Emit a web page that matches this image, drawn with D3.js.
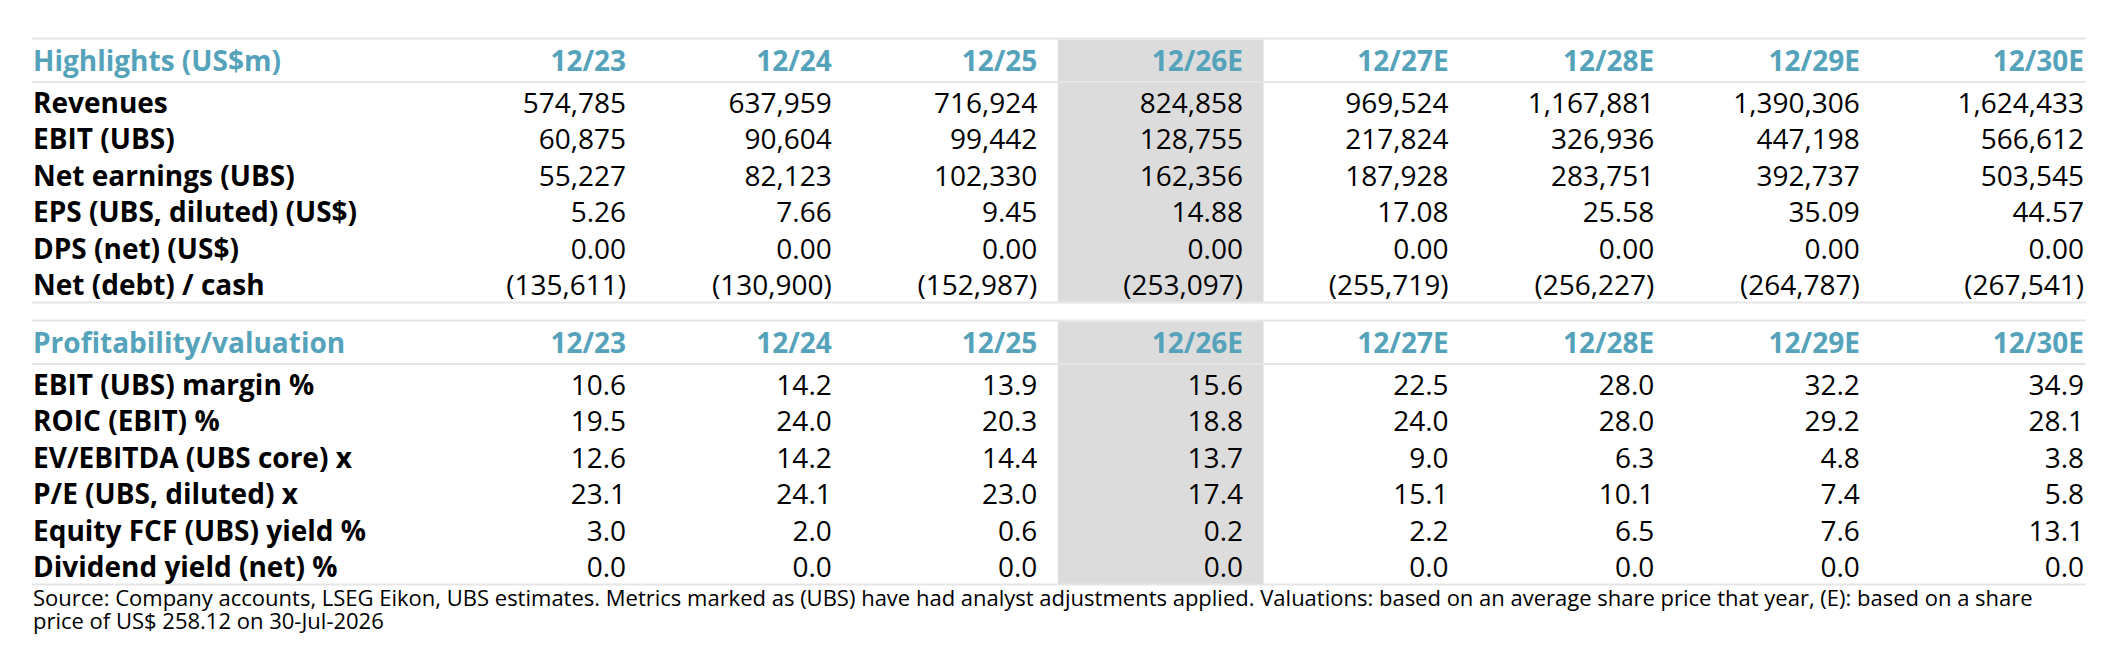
<!DOCTYPE html>
<html>
<head>
<meta charset="utf-8">
<script src="https://cdn.jsdelivr.net/npm/d3@7/dist/d3.min.js"></script>
<style>
  html, body { margin: 0; padding: 0; background: #ffffff; }
  svg { display: block; }
  text { font-family: "Open Sans", "Noto Sans", sans-serif; }
</style>
</head>
<body>
<div id="chart"></div>
<script>
// ---------- data ----------
const periods = ["12/23", "12/24", "12/25", "12/26E", "12/27E", "12/28E", "12/29E", "12/30E"];
const highlightPeriod = "12/26E";

const section1Title = "Highlights (US$m)";
const section1Labels = ["Revenues", "EBIT (UBS)", "Net earnings (UBS)", "EPS (UBS, diluted) (US$)", "DPS (net) (US$)", "Net (debt) / cash"];
const section1Decimals = [0, 0, 0, 2, 2, 0];
const revenues      = [574785, 637959, 716924, 824858, 969524, 1167881, 1390306, 1624433];
const ebit          = [60875, 90604, 99442, 128755, 217824, 326936, 447198, 566612];
const netEarnings   = [55227, 82123, 102330, 162356, 187928, 283751, 392737, 503545];
const eps           = [5.26, 7.66, 9.45, 14.88, 17.08, 25.58, 35.09, 44.57];
const dps           = [0.00, 0.00, 0.00, 0.00, 0.00, 0.00, 0.00, 0.00];
const netDebtCash   = [-135611, -130900, -152987, -253097, -255719, -256227, -264787, -267541];

const section2Title = "Profitability/valuation";
const section2Labels = ["EBIT (UBS) margin %", "ROIC (EBIT) %", "EV/EBITDA (UBS core) x", "P/E (UBS, diluted) x", "Equity FCF (UBS) yield %", "Dividend yield (net) %"];
const section2Decimals = [1, 1, 1, 1, 1, 1];
const ebitMargin    = [10.6, 14.2, 13.9, 15.6, 22.5, 28.0, 32.2, 34.9];
const roic          = [19.5, 24.0, 20.3, 18.8, 24.0, 28.0, 29.2, 28.1];
const evEbitda      = [12.6, 14.2, 14.4, 13.7, 9.0, 6.3, 4.8, 3.8];
const peRatio       = [23.1, 24.1, 23.0, 17.4, 15.1, 10.1, 7.4, 5.8];
const fcfYield      = [3.0, 2.0, 0.6, 0.2, 2.2, 6.5, 7.6, 13.1];
const divYield      = [0.0, 0.0, 0.0, 0.0, 0.0, 0.0, 0.0, 0.0];

const sourceLines = [
  "Source: Company accounts, LSEG Eikon, UBS estimates. Metrics marked as (UBS) have had analyst adjustments applied. Valuations: based on an average share price that year, (E): based on a share",
  "price of US$ 258.12 on 30-Jul-2026"
];

// ---------- layout ----------
const W = 2121, H = 661;
const left = 32, right = 2086;
const colStart = 441;
const teal = "#55a3bb";
const lineColor = "#e6e6e6";
const bandColor = "#dcdcdc";

const sections = [
  { title: section1Title, labels: section1Labels, decimals: section1Decimals,
    values: [revenues, ebit, netEarnings, eps, dps, netDebtCash], top: 38.5 },
  { title: section2Title, labels: section2Labels, decimals: section2Decimals,
    values: [ebitMargin, roic, evEbitda, peRatio, fcfYield, divYield], top: 320.5 }
];

const x = d3.scaleBand().domain(periods).range([colStart, right]).paddingInner(0).paddingOuter(0);
const textRight = p => x(p) + x.bandwidth() - (p === periods[periods.length - 1] ? 2 : 20.5);

const rowY = d3.scaleLinear().domain([0, 5]).range([74, 256.5]);
const sectionHeight = 264;

function fmt(v, dec) {
  const f = d3.format(",." + dec + "f");
  return v < 0 ? "(" + f(-v) + ")" : f(v);
}

const svg = d3.select("#chart").append("svg")
  .attr("width", W).attr("height", H)
  .attr("viewBox", `0 0 ${W} ${H}`);

svg.append("rect").attr("width", W).attr("height", H).attr("fill", "#fff");

sections.forEach(sec => {
  const g = svg.append("g").attr("transform", `translate(0,${sec.top})`);

  // highlighted column band
  g.append("rect")
    .attr("x", x(highlightPeriod))
    .attr("y", 1)
    .attr("width", x.bandwidth())
    .attr("height", sectionHeight - 1)
    .attr("fill", bandColor);

  // lines: top, under header, bottom
  [0, 43.5, sectionHeight].forEach(yy => {
    g.append("line")
      .attr("x1", left).attr("x2", right)
      .attr("y1", yy).attr("y2", yy)
      .attr("stroke", lineColor).attr("stroke-width", 2);
  });

  // header
  g.append("text")
    .attr("x", left + 1).attr("y", 32.5)
    .attr("fill", teal).attr("font-weight", 700).attr("font-size", 28)
    .text(sec.title);

  g.selectAll("text.period").data(periods).join("text")
    .attr("class", "period")
    .attr("x", d => textRight(d)).attr("y", 32.5)
    .attr("text-anchor", "end")
    .attr("fill", teal).attr("font-weight", 700).attr("font-size", 28)
    .text(d => d);

  // rows
  sec.labels.forEach((lab, i) => {
    const yy = rowY(i);
    g.append("text")
      .attr("x", left + 1).attr("y", yy)
      .attr("fill", "#000").attr("font-weight", 700).attr("font-size", 28)
      .text(lab);

    g.selectAll("text.v" + i).data(sec.values[i]).join("text")
      .attr("class", "v" + i)
      .attr("x", (d, j) => textRight(periods[j])).attr("y", yy)
      .attr("text-anchor", "end")
      .attr("fill", "#000").attr("font-weight", 400).attr("font-size", 28)
      .text(d => fmt(d, sec.decimals[i]));
  });
});

// source note
svg.append("text")
  .attr("x", left + 1).attr("y", 605.5)
  .attr("fill", "#000").attr("font-size", 22)
  .selectAll("tspan").data(sourceLines).join("tspan")
  .attr("x", left + 1)
  .attr("dy", (d, i) => i === 0 ? 0 : 23.8)
  .text(d => d);
</script>
</body>
</html>
